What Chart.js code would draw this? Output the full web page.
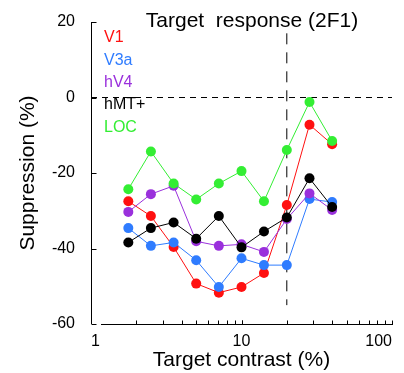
<!DOCTYPE html>
<html>
<head>
<meta charset="utf-8">
<script src="https://cdn.jsdelivr.net/npm/chart.js@4"></script>
<style>
  html, body { margin: 0; padding: 0; background: #fff; }
  #wrap { width: 404px; height: 373px; }
</style>
</head>
<body>
<div id="wrap"><canvas id="chart"></canvas></div>
<script>
// target contrast (%) for each measurement
const contrast = [1.77, 2.5, 3.54, 5, 7.07, 10, 14.1, 20, 28.3, 40];

// suppression (%) per visual area
const v1  = [-27.5, -31.4, -39.6, -49.3, -51.7, -50.2, -46.5, -28.5, -7.2, -12.4];
const v3a = [-34.6, -39.3, -38.4, -43.1, -50.2, -42.6, -44.4, -44.4, -26.9, -27.7];
const hv4 = [-30.3, -25.6, -23.4, -38.1, -39.3, -38.9, -40.9, -32.2, -25.4, -29.8];
const hmt = [-38.4, -34.6, -33.1, -37.4, -31.4, -39.7, -35.5, -31.8, -21.4, -29.0];
const loc = [-24.3, -14.3, -22.8, -27.0, -22.8, -19.5, -27.5, -13.9, -1.2, -11.5];

const areaNames = ['V1', 'V3a', 'hV4', 'hMT+', 'LOC'];
const areaColors = ['#ff1010', '#2f7cff', '#9a30dc', '#000000', '#33ee33'];

const xTicks = [1, 10, 100];
const yTicks = [20, 0, -20, -40, -60];
const refContrast = 20;        // vertical dashed line
const refSpan = [17, -55];     // its vertical extent
const FONT = "'Liberation Sans', Arial, Helvetica, sans-serif";

const series = [v1, v3a, hv4, hmt, loc];

const datasets = series.map((vals, i) => ({
    label: areaNames[i],
    data: vals.map((v, j) => ({ x: contrast[j], y: v })),
    borderColor: areaColors[i],
    backgroundColor: areaColors[i],
    borderWidth: 1,
    pointRadius: 5,
    pointBorderWidth: 0,
    order: series.length - i
}));

// reference lines
datasets.push({
    label: 'zero',
    data: [{ x: xTicks[0], y: 0 }, { x: xTicks[xTicks.length - 1], y: 0 }],
    borderColor: '#000',
    borderWidth: 1,
    borderDash: [6, 5],
    pointRadius: 0,
    order: 10
});
datasets.push({
    label: 'ref',
    data: [{ x: refContrast, y: refSpan[0] }, { x: refContrast, y: refSpan[1] }],
    borderColor: '#000',
    borderWidth: 1,
    borderDash: [11, 8],
    pointRadius: 0,
    order: 10
});

// matlab-ish axes: inward ticks, offset x axis, text legend, title
const axesPlugin = {
    id: 'axesPlugin',
    afterDraw(chart) {
        const ctx = chart.ctx;
        const xs = chart.scales.x, ys = chart.scales.y;
        const a = chart.chartArea;
        ctx.save();
        ctx.strokeStyle = '#000';
        ctx.lineWidth = 1;
        ctx.beginPath();
        // y axis
        const yx = Math.round(a.left) + 0.5;
        ctx.moveTo(yx, ys.getPixelForValue(yTicks[0]));
        ctx.lineTo(yx, ys.getPixelForValue(yTicks[yTicks.length - 1]));
        yTicks.forEach(v => {
            const py = Math.round(ys.getPixelForValue(v)) + 0.5;
            ctx.moveTo(yx, py);
            ctx.lineTo(yx + 5, py);
        });
        // x axis, slightly detached from the y axis
        const xy = Math.round(a.bottom) + 0.5;
        ctx.moveTo(a.left + 10, xy);
        ctx.lineTo(xs.getPixelForValue(xTicks[xTicks.length - 1]) + 1, xy);
        for (let d = 1; d < 100; d *= 10) {
            for (let k = 1; k <= 10; k++) {
                const v = k * d;
                if (v === 1) continue;
                const px = Math.round(xs.getPixelForValue(v)) + 0.5;
                ctx.moveTo(px, xy);
                ctx.lineTo(px, xy - 4);
            }
        }
        ctx.stroke();

        // title
        ctx.fillStyle = '#000';
        ctx.font = '21px ' + FONT;
        ctx.textAlign = 'center';
        ctx.textBaseline = 'middle';
        ctx.fillText('Target  response (2F1)', 252, 21);

        // legend as coloured text
        ctx.font = '16px ' + FONT;
        ctx.textAlign = 'left';
        areaNames.forEach((name, i) => {
            ctx.fillStyle = areaColors[i];
            ctx.fillText(name, a.left + 13, 38 + i * 22.3);
        });
        ctx.restore();
    }
};

new Chart(document.getElementById('chart'), {
    type: 'line',
    data: { datasets },
    options: {
        responsive: true,
        maintainAspectRatio: false,
        animation: false,
        layout: { padding: { left: 0, right: 12, top: 22, bottom: 0 } },
        plugins: {
            legend: { display: false },
            tooltip: { enabled: false }
        },
        scales: {
            x: {
                type: 'logarithmic',
                min: 1,
                max: 100,
                afterBuildTicks: s => { s.ticks = xTicks.map(v => ({ value: v })); },
                afterFit: s => { s.height = 49; },
                grid: { display: false },
                border: { display: false },
                ticks: {
                    align: 'inner',
                    color: '#000',
                    padding: 0,
                    font: { family: FONT, size: 16 },
                    callback: v => String(v)
                },
                title: {
                    display: true,
                    text: 'Target contrast (%)',
                    color: '#000',
                    padding: { top: 11, bottom: 0 },
                    font: { family: FONT, size: 21 }
                }
            },
            y: {
                min: -60,
                max: 20,
                afterBuildTicks: s => { s.ticks = yTicks.map(v => ({ value: v })); },
                afterFit: s => { s.width = 91; },
                grid: { display: false },
                border: { display: false },
                ticks: {
                    color: '#000',
                    padding: 8,
                    font: { family: FONT, size: 16 }
                },
                title: {
                    display: true,
                    text: 'Suppression (%)',
                    color: '#000',
                    padding: { top: 16, bottom: 0 },
                    font: { family: FONT, size: 21 }
                }
            }
        }
    },
    plugins: [axesPlugin]
});
</script>
</body>
</html>
